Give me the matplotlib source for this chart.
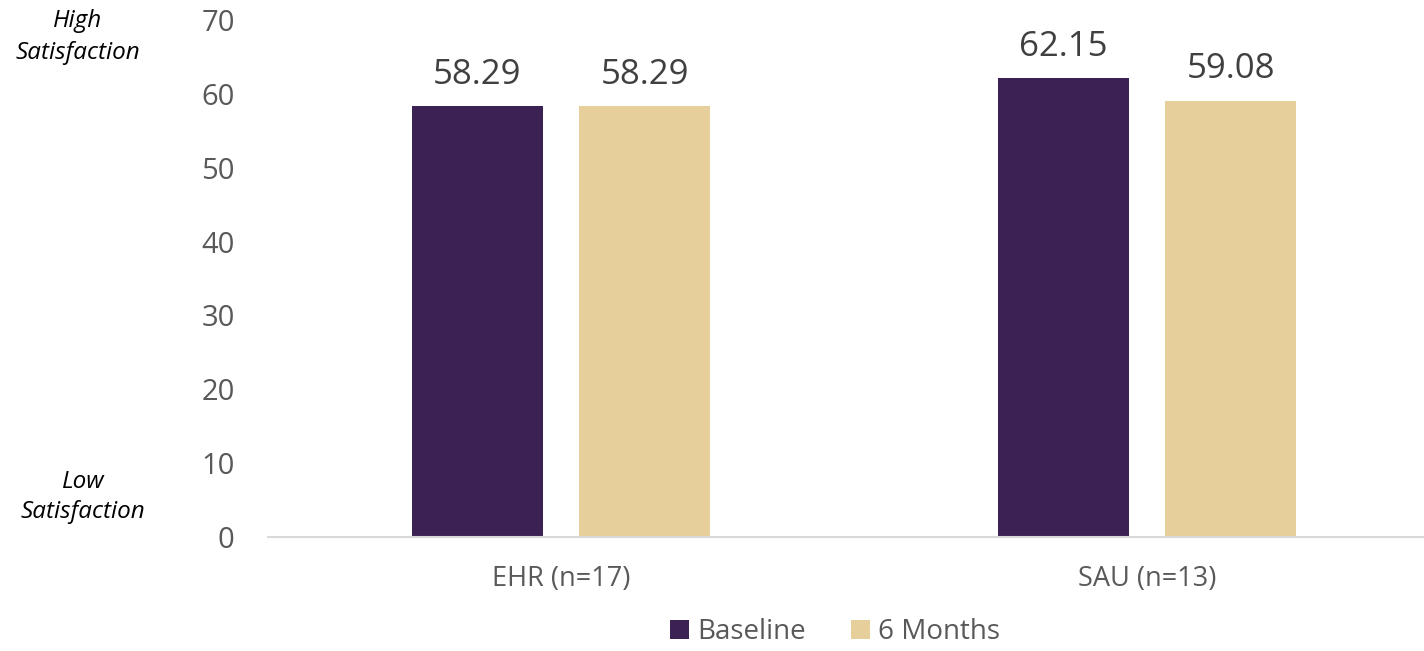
import numpy as np
import matplotlib
matplotlib.use("Agg")
import matplotlib.pyplot as plt

# data
groups = ["EHR (n=17)", "SAU (n=13)"]
series = ["Baseline", "6 Months"]
baseline = [58.29, 62.15]
six_months = [58.29, 59.08]
yticks = [0, 10, 20, 30, 40, 50, 60, 70]

colors = ["#3C2254", "#E6CF9A"]

plt.rcParams["font.family"] = ["Open Sans", "DejaVu Sans"]

fig = plt.figure(figsize=(14.24, 6.51), dpi=100)
ax = fig.add_axes([268 / 1424, 114 / 651, (1440 - 268) / 1424, 517 / 651])

x = np.arange(len(groups))
w = 0.2235
off = 0.1425
for vals, name, c, d in [(baseline, series[0], colors[0], -off),
                         (six_months, series[1], colors[1], off)]:
    bars = ax.bar(x + d, vals, w, color=c, label=name)
    for b, v in zip(bars, vals):
        ax.text(b.get_x() + b.get_width() / 2, v + 3.0, f"{v:.2f}",
                ha="center", va="baseline", fontsize=25, color="#404040")

ax.set_xlim(-0.5, 1.5)
ax.set_ylim(0, 70)
ax.set_yticks(yticks)
ax.set_xticks(x)
ax.set_xticklabels(groups, fontsize=19.5, color="#595959")
ax.tick_params(axis="y", labelsize=21, labelcolor="#595959", length=0, pad=24)
ax.tick_params(axis="x", length=0, pad=20)
for s in ["top", "right", "left"]:
    ax.spines[s].set_visible(False)
ax.spines["bottom"].set_color("#D9D9D9")
ax.spines["bottom"].set_linewidth(1.5)

fig.text(78 / 1424, 1 - 37 / 651, "High\nSatisfaction", ha="center", va="center",
         fontsize=17.5, style="italic", color="black", linespacing=1.4)
fig.text(83 / 1424, 1 - 497 / 651, "Low\nSatisfaction", ha="center", va="center",
         fontsize=17.5, style="italic", color="black", linespacing=1.35)

leg = fig.legend(loc="center", bbox_to_anchor=(835 / 1424, 1 - 632 / 651), ncol=2,
                 frameon=False, fontsize=20, handlelength=0.7, handleheight=0.7,
                 handletextpad=0.3, columnspacing=1.6)
for t in leg.get_texts():
    t.set_color("#595959")

fig.savefig("out.png", dpi=100)
